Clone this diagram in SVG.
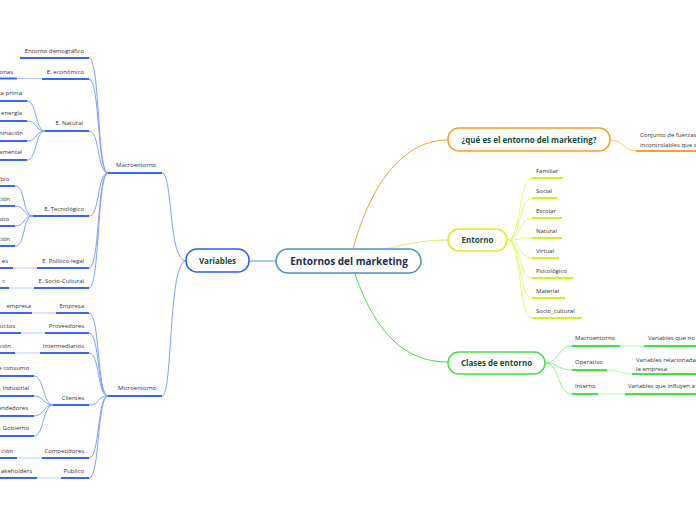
<svg xmlns="http://www.w3.org/2000/svg" width="696" height="520" viewBox="0 0 696 520">
<style>
text{font-family:"Open Sans","Liberation Sans",sans-serif;fill:#333}
.lf{font-size:6px}
.nd{font-size:8px;font-weight:bold;fill:#1b4a3c;text-anchor:middle}
.c{fill:none;stroke-width:1}
.b{stroke:#7f9fff}
.bu{stroke:#3a66f5;stroke-width:2}
.bf{stroke:#b9c9ff;stroke-width:1}
.o{stroke:#ffc46b}
.ou{stroke:#f7a030;stroke-width:2}
.y{stroke:#e4f77a}
.yu{stroke:#d4f022;stroke-width:2}
.g{stroke:#8aef8a}
.gu{stroke:#48e048;stroke-width:2}
.gf{stroke:#b8f5b8;stroke-width:1}
.e{text-anchor:end}
</style>
<g id="connectors">
<path class="c" d="M249,261 L276,261" stroke="#5b8ff0" stroke-width="1.5"/>
<path class="c" d="M353,249 C372,180 405,140 448,140" stroke="#f7a030" stroke-width="1.5"/>
<path class="c" d="M385,249 C410,243 428,240 448,240" stroke="#d8f060" stroke-width="1.5"/>
<path class="c" d="M355,274 C378,340 410,362 448,362" stroke="#44e044" stroke-width="1.5"/>
<path class="c b" d="M186,261 C168,261 173,173 162,173"/>
<path class="c b" d="M186,261 C168,261 173,396 162,396"/>
<line class="bu" x1="108" y1="173" x2="162" y2="173"/>
<line class="bu" x1="108" y1="396" x2="162" y2="396"/>
<path class="c b" d="M108,173 C97,173 100,58 89,58"/>
<path class="c b" d="M108,173 C97,173 100,79 89,79"/>
<path class="c b" d="M108,173 C97,173 100,131 89,131"/>
<path class="c b" d="M108,173 C97,173 100,216 89,216"/>
<path class="c b" d="M108,173 C97,173 100,268 89,268"/>
<path class="c b" d="M108,173 C97,173 100,288 89,288"/>
<line class="bu" x1="20" y1="58" x2="89" y2="58"/>
<line class="bu" x1="42" y1="79" x2="89" y2="79"/>
<line class="bu" x1="45" y1="131" x2="89" y2="131"/>
<line class="bu" x1="33" y1="216" x2="89" y2="216"/>
<line class="bu" x1="37" y1="268" x2="89" y2="268"/>
<line class="bu" x1="34" y1="288" x2="89" y2="288"/>
<line class="bf" x1="17" y1="78.5" x2="42" y2="78.5"/>
<line class="bu" x1="0" y1="78.5" x2="17" y2="78.5"/>
<path class="c b" d="M45,131 C35,131 37,101 27,101"/>
<path class="c b" d="M45,131 C35,131 37,121 27,121"/>
<path class="c b" d="M45,131 C35,131 37,141 27,141"/>
<path class="c b" d="M45,131 C35,131 37,160 27,160"/>
<line class="bu" x1="0" y1="101" x2="27" y2="101"/>
<line class="bu" x1="0" y1="121" x2="27" y2="121"/>
<line class="bu" x1="0" y1="141" x2="27" y2="141"/>
<line class="bu" x1="0" y1="160" x2="27" y2="160"/>
<path class="c b" d="M33,216 C22,216 26,186 15,186"/>
<path class="c b" d="M33,216 C22,216 26,206 15,206"/>
<path class="c b" d="M33,216 C22,216 26,226 15,226"/>
<path class="c b" d="M33,216 C22,216 26,246 15,246"/>
<line class="bu" x1="0" y1="186" x2="15" y2="186"/>
<line class="bu" x1="0" y1="206" x2="15" y2="206"/>
<line class="bu" x1="0" y1="226" x2="15" y2="226"/>
<line class="bu" x1="0" y1="246" x2="15" y2="246"/>
<line class="bf" x1="13" y1="268" x2="37" y2="268"/>
<line class="bu" x1="0" y1="268" x2="13" y2="268"/>
<line class="bf" x1="9" y1="288" x2="34" y2="288"/>
<line class="bu" x1="0" y1="288" x2="9" y2="288"/>
<path class="c b" d="M108,396 C97,396 100,313 89,313"/>
<path class="c b" d="M108,396 C97,396 100,333 89,333"/>
<path class="c b" d="M108,396 C97,396 100,353 89,353"/>
<path class="c b" d="M108,396 C97,396 100,405 89,405"/>
<path class="c b" d="M108,396 C97,396 100,458 89,458"/>
<path class="c b" d="M108,396 C97,396 100,478 89,478"/>
<line class="bu" x1="56" y1="313" x2="89" y2="313"/>
<line class="bu" x1="45" y1="333" x2="89" y2="333"/>
<line class="bu" x1="40" y1="353" x2="89" y2="353"/>
<line class="bu" x1="53" y1="405" x2="89" y2="405"/>
<line class="bu" x1="42" y1="458" x2="89" y2="458"/>
<line class="bu" x1="61" y1="478" x2="89" y2="478"/>
<line class="bf" x1="32" y1="313" x2="56" y2="313"/>
<line class="bu" x1="0" y1="313" x2="32" y2="313"/>
<line class="bf" x1="21" y1="333" x2="45" y2="333"/>
<line class="bu" x1="0" y1="333" x2="21" y2="333"/>
<line class="bf" x1="15" y1="353" x2="40" y2="353"/>
<line class="bu" x1="0" y1="353" x2="15" y2="353"/>
<path class="c b" d="M53,405 C43,405 44,376 34,376"/>
<path class="c b" d="M53,405 C43,405 44,396 34,396"/>
<path class="c b" d="M53,405 C43,405 44,416 34,416"/>
<path class="c b" d="M53,405 C43,405 44,436 34,436"/>
<line class="bu" x1="0" y1="376" x2="34" y2="376"/>
<line class="bu" x1="0" y1="396" x2="34" y2="396"/>
<line class="bu" x1="0" y1="416" x2="34" y2="416"/>
<line class="bu" x1="0" y1="436" x2="34" y2="436"/>
<line class="bf" x1="17" y1="458" x2="42" y2="458"/>
<line class="bu" x1="0" y1="458" x2="17" y2="458"/>
<line class="bf" x1="37" y1="478" x2="61" y2="478"/>
<line class="bu" x1="0" y1="478" x2="37" y2="478"/>
<path class="c o" d="M610,140 C624,140 624,151 636,151"/>
<line class="ou" x1="636" y1="151" x2="696" y2="151"/>
<path class="c y" d="M507,240 C522,240 518,178 532,178"/>
<path class="c y" d="M507,240 C522,240 518,198 532,198"/>
<path class="c y" d="M507,240 C522,240 518,218 532,218"/>
<path class="c y" d="M507,240 C522,240 518,238 532,238"/>
<path class="c y" d="M507,240 C522,240 518,258 532,258"/>
<path class="c y" d="M507,240 C522,240 518,278 532,278"/>
<path class="c y" d="M507,240 C522,240 518,298 532,298"/>
<path class="c y" d="M507,240 C522,240 518,318 532,318"/>
<line class="yu" x1="532" y1="178" x2="563" y2="178"/>
<line class="yu" x1="532" y1="198" x2="557" y2="198"/>
<line class="yu" x1="532" y1="218" x2="562" y2="218"/>
<line class="yu" x1="532" y1="238" x2="562" y2="238"/>
<line class="yu" x1="532" y1="258" x2="559" y2="258"/>
<line class="yu" x1="532" y1="278" x2="573" y2="278"/>
<line class="yu" x1="532" y1="298" x2="565" y2="298"/>
<line class="yu" x1="532" y1="318" x2="582" y2="318"/>
<path class="c g" d="M545,363 C560,363 557,346 572,346"/>
<path class="c g" d="M545,363 C560,363 557,370 572,370"/>
<path class="c g" d="M545,363 C560,363 557,394 572,394"/>
<line class="gu" x1="572" y1="346" x2="620" y2="346"/>
<line class="gu" x1="572" y1="370" x2="607" y2="370"/>
<line class="gu" x1="572" y1="394" x2="598" y2="394"/>
<line class="gf" x1="620" y1="346" x2="644" y2="346"/>
<path class="c gf" d="M607,370 C620,370 619,374 632,374"/>
<line class="gf" x1="598" y1="394" x2="625" y2="394"/>
<line class="gu" x1="644" y1="346" x2="696" y2="346"/>
<line class="gu" x1="632" y1="374" x2="696" y2="374"/>
<line class="gu" x1="625" y1="394" x2="696" y2="394"/>
</g>
<g id="central"><rect x="276" y="249" width="145" height="24" rx="12" fill="#fff" stroke="#4a90d0" stroke-width="1.5"/><text x="349" y="265" text-anchor="middle" style="font-size:10px;font-weight:bold;fill:#1a2f50">Entornos del marketing</text></g>
<g id="variables"><rect x="186" y="249" width="63" height="23" rx="11" fill="#fff" stroke="#2a5ef5" stroke-width="1.5"/><text class="nd" x="217.5" y="263.5">Variables</text></g>
<g id="que-es"><rect x="448" y="128" width="162" height="23" rx="11" fill="#fff" stroke="#f7a020" stroke-width="1.5"/><text class="nd" x="529" y="142.5">¿qué es el entorno del marketing?</text></g>
<g id="entorno"><rect x="448" y="229" width="59" height="22" rx="11" fill="#fff" stroke="#d4f022" stroke-width="1.5"/><text class="nd" x="477.5" y="243">Entorno</text></g>
<g id="clases"><rect x="448" y="352" width="97" height="22" rx="11" fill="#fff" stroke="#44e044" stroke-width="1.5"/><text class="nd" x="496.5" y="366">Clases de entorno</text></g>
<g id="macro"><text class="lf" x="116" y="167">Macroentorno</text></g>
<g id="micro"><text class="lf" x="118" y="390">Microentorno</text></g>
<g id="macro-items">
<text class="lf e" x="84" y="53">Entorno demográfico</text>
<text class="lf e" x="84" y="74">E. económico</text>
<text class="lf e" x="83" y="125">E. Natural</text>
<text class="lf e" x="84" y="211">E. Tecnológico</text>
<text class="lf e" x="84" y="263">E. Político-legal</text>
<text class="lf e" x="84" y="283">E. Socio-Cultural</text>
<text class="lf e" x="13" y="74">onas</text>
<text class="lf e" x="22" y="95">a prima</text>
<text class="lf e" x="22" y="115">energía</text>
<text class="lf e" x="23" y="135">minación</text>
<text class="lf e" x="22" y="154">amental</text>
<text class="lf e" x="9" y="181">bio</text>
<text class="lf e" x="10" y="201">ción</text>
<text class="lf e" x="9" y="221">sito</text>
<text class="lf e" x="10" y="241">ción</text>
<text class="lf e" x="8" y="263">es</text>
<text class="lf e" x="5" y="283">c</text>
</g>
<g id="micro-items">
<text class="lf e" x="84" y="308">Empresa</text>
<text class="lf e" x="84" y="328">Proveedores</text>
<text class="lf e" x="84" y="348">Intermediarios</text>
<text class="lf e" x="84" y="400">Clientes</text>
<text class="lf e" x="84" y="453">Competidores</text>
<text class="lf e" x="84" y="473">Publico</text>
<text class="lf e" x="31" y="308">empresa</text>
<text class="lf e" x="15" y="328">ductos</text>
<text class="lf e" x="11" y="348">ción</text>
<text class="lf e" x="29" y="370">e consumo</text>
<text class="lf e" x="29" y="390">. Industrial</text>
<text class="lf e" x="28" y="410">endedores</text>
<text class="lf e" x="29" y="430">M. Gobierno</text>
<text class="lf e" x="13" y="453">ción</text>
<text class="lf e" x="32" y="473">akeholders</text>
</g>
<g id="que-es-items">
<text class="lf" x="640" y="137">Conjunto de fuerzas</text>
<text class="lf" x="640" y="147">incontrolables que s</text>
</g>
<g id="entorno-items">
<text class="lf" x="536" y="173">Familiar</text>
<text class="lf" x="536" y="193">Social</text>
<text class="lf" x="536" y="213">Escolar</text>
<text class="lf" x="536" y="233">Natural</text>
<text class="lf" x="536" y="253">Virtual</text>
<text class="lf" x="536" y="273">Psicológico</text>
<text class="lf" x="536" y="293">Material</text>
<text class="lf" x="536" y="313">Socio_cultural</text>
</g>
<g id="clases-items">
<text class="lf" x="575" y="340">Macroentorno</text>
<text class="lf" x="575" y="364">Operativo</text>
<text class="lf" x="575" y="388">Interno</text>
<text class="lf" x="648" y="340">Variables que no</text>
<text class="lf" x="636" y="362">Variables relacionada</text>
<text class="lf" x="636" y="371">la empresa</text>
<text class="lf" x="628" y="388">Variables que influyen a</text>
</g>
</svg>
